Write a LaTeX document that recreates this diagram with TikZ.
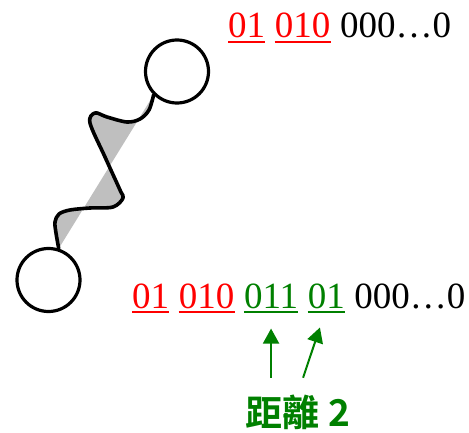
\documentclass[tikz,border=0pt]{standalone}
\usepackage{fontspec}
\setmainfont{Liberation Serif}
\newfontfamily\cjkbf{Noto Sans CJK TC Bold}
\usetikzlibrary{arrows.meta,positioning}
\definecolor{bitred}{RGB}{255,0,0}
\definecolor{bitgreen}{RGB}{0,128,0}

\begin{document}
\begin{tikzpicture}[
    x=1pt, y=1pt,
    node distance=9.25pt,
    >={Triangle[length=15pt,width=16pt]},
    vertex/.style={draw, circle, line width=3.2pt, minimum size=63pt, inner sep=0pt},
    wave/.style={line width=3.6pt, line join=round, line cap=round},
    bits/.style={inner sep=0pt, font=\fontsize{37}{40}\selectfont},
    uline/.style={line width=2pt},
    pointer/.style={->, line width=2pt, draw=bitgreen, fill=bitgreen, shorten >=20pt}
  ]
    \useasboundingbox (0,0) rectangle (469,432);

    \node[vertex] (u) at (177,360.5) {};
    \node[vertex] (v) at (48.5,152) {};

    % wiggly path between the two vertices, shaded against the chord
    \draw[wave, fill=gray!50] plot[smooth, tension=.55] coordinates {
      (u.225) (149,322) (140,313) (127,310) (107,315) (95,319) (90,309)
      (105,275) (120,242) (123,234) (113,225) (90,224) (70,222) (59,218)
      (55,210) (56,199) (v.72)};

    % codeword at u
    \node[bits, text=bitred, anchor=base west] (ua) at (228,394) {01};
    \node[bits, text=bitred, base right=of ua] (ub) {010};
    \node[bits, base right=of ub] (urest) {000…0};

    % codeword at v
    \node[bits, text=bitred, anchor=base west] (va) at (132,124) {01};
    \node[bits, text=bitred, base right=of va] (vb) {010};
    \node[bits, text=bitgreen, base right=of vb] (vc) {011};
    \node[bits, text=bitgreen, base right=of vc] (vd) {01};
    \node[bits, base right=of vd] (vrest) {000…0};

    \foreach \c/\col in {ua/bitred, ub/bitred, va/bitred, vb/bitred, vc/bitgreen, vd/bitgreen}
      \draw[uline, draw=\col] ([yshift=-4pt]\c.base west) -- ([yshift=-4pt]\c.base east);

    \node[inner sep=0pt, anchor=base, text=bitgreen, font=\cjkbf\fontsize{37}{40}\selectfont] (dist) at (298,5.5) {距離 2};

    \coordinate[yshift=17pt] (tailc) at (vc.south |- dist.north);
    \coordinate[xshift=32pt] (taild) at (tailc);
    \draw[pointer] (tailc) -- (vc.south);
    \draw[pointer] (taild) -- (vd.south);
  \end{tikzpicture}
\end{document}
